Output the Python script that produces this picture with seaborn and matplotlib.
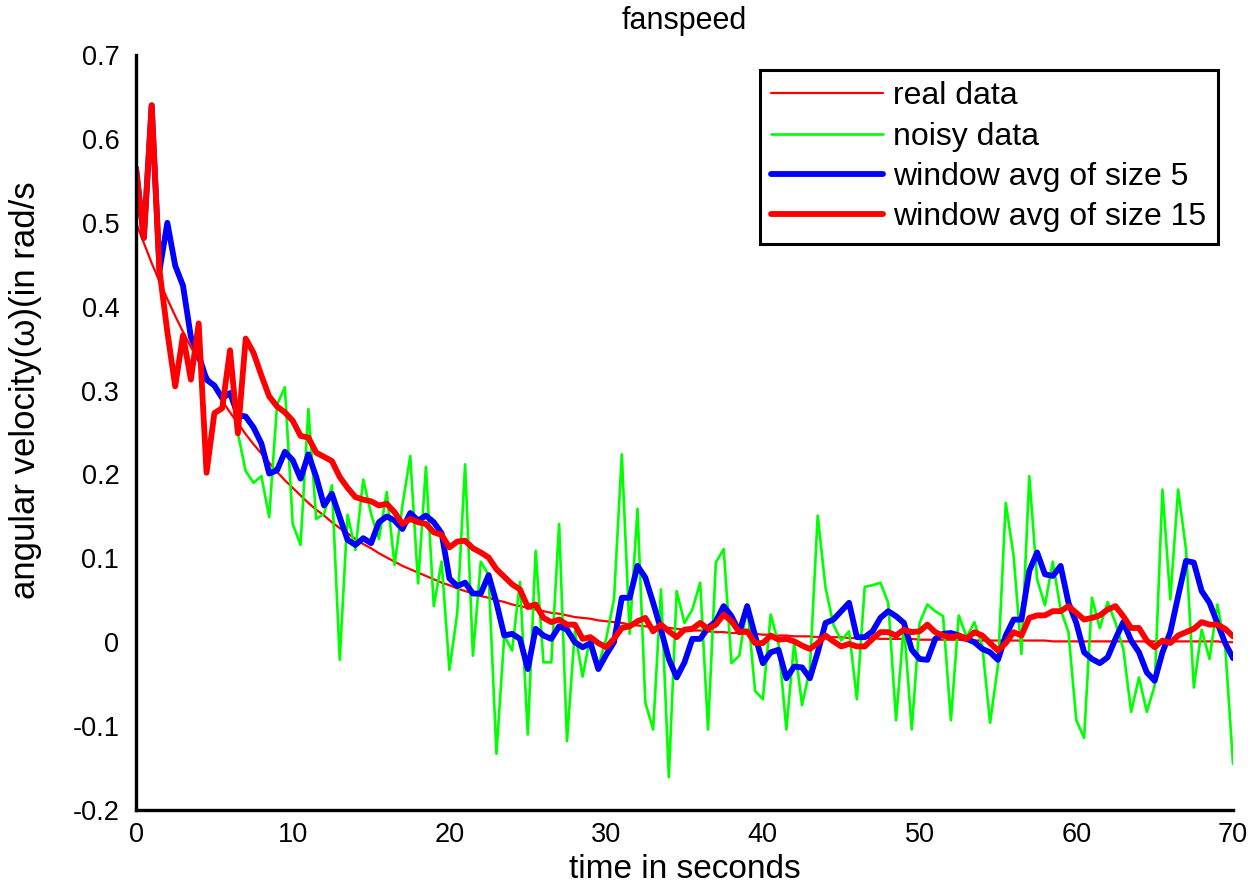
import numpy as np
import pandas as pd
import matplotlib
matplotlib.use('Agg')
import matplotlib.pyplot as plt
import seaborn as sns

# time axis: one sample every 0.5 s from 0 to 70 s
time_s = np.arange(0, 70.5, 0.5)

real_data = [
    0.500, 0.476, 0.452, 0.430, 0.409, 0.389, 0.370, 0.352, 0.335, 0.319,
    0.303, 0.288, 0.274, 0.261, 0.248, 0.236, 0.225, 0.214, 0.203, 0.193,
    0.184, 0.175, 0.166, 0.158, 0.151, 0.143, 0.136, 0.130, 0.123, 0.117,
    0.112, 0.106, 0.101, 0.096, 0.091, 0.087, 0.083, 0.079, 0.075, 0.071,
    0.068, 0.064, 0.061, 0.058, 0.055, 0.053, 0.050, 0.048, 0.045, 0.043,
    0.041, 0.039, 0.037, 0.035, 0.034, 0.032, 0.030, 0.029, 0.028, 0.026,
    0.025, 0.024, 0.023, 0.021, 0.020, 0.019, 0.018, 0.018, 0.017, 0.016,
    0.015, 0.014, 0.014, 0.013, 0.012, 0.012, 0.011, 0.011, 0.010, 0.010,
    0.009, 0.009, 0.008, 0.008, 0.007, 0.007, 0.007, 0.006, 0.006, 0.006,
    0.006, 0.005, 0.005, 0.005, 0.005, 0.004, 0.004, 0.004, 0.004, 0.004,
    0.003, 0.003, 0.003, 0.003, 0.003, 0.003, 0.002, 0.002, 0.002, 0.002,
    0.002, 0.002, 0.002, 0.002, 0.002, 0.002, 0.002, 0.001, 0.001, 0.001,
    0.001, 0.001, 0.001, 0.001, 0.001, 0.001, 0.001, 0.001, 0.001, 0.001,
    0.001, 0.001, 0.001, 0.001, 0.001, 0.001, 0.001, 0.001, 0.001, 0.000,
    0.000,
]

noisy_data = [
    0.565, 0.482, 0.640, 0.443, 0.370, 0.305, 0.366, 0.313, 0.380, 0.202,
    0.273, 0.279, 0.348, 0.249, 0.204, 0.190, 0.198, 0.149, 0.283, 0.304,
    0.141, 0.116, 0.278, 0.147, 0.153, 0.187, -0.021, 0.152, 0.110, 0.194,
    0.153, 0.123, 0.179, 0.092, 0.163, 0.222, 0.070, 0.209, 0.043, 0.096,
    -0.033, 0.035, 0.212, -0.016, 0.096, 0.080, -0.133, 0.008, -0.010, 0.072,
    -0.110, 0.109, -0.024, -0.024, 0.141, -0.118, 0.013, -0.041, 0.008, -0.028,
    0.004, 0.051, 0.224, 0.010, 0.159, -0.072, -0.104, 0.063, -0.161, 0.061,
    0.023, 0.039, 0.071, -0.104, 0.095, 0.111, -0.025, -0.016, 0.045, -0.058,
    -0.068, 0.033, -0.002, -0.104, 0.000, -0.075, -0.032, 0.151, 0.065, 0.021,
    0.002, 0.013, -0.068, 0.066, 0.068, 0.071, 0.047, -0.093, 0.021, -0.104,
    0.023, 0.045, 0.037, 0.031, -0.093, 0.032, 0.006, 0.024, -0.004, -0.096,
    -0.028, 0.166, 0.103, -0.014, 0.198, 0.075, 0.044, 0.096, 0.039, 0.012,
    -0.093, -0.114, 0.053, 0.017, 0.048, 0.023, -0.008, -0.083, -0.042, -0.083,
    -0.052, 0.182, 0.051, 0.182, 0.111, -0.054, 0.015, -0.020, 0.045, -0.004,
    -0.145,
]

window_avg_5 = [
    0.565, 0.482, 0.640, 0.443, 0.500, 0.449, 0.425, 0.364, 0.342, 0.313,
    0.306, 0.291, 0.297, 0.271, 0.269, 0.256, 0.237, 0.201, 0.205, 0.227,
    0.217, 0.195, 0.224, 0.197, 0.163, 0.177, 0.149, 0.122, 0.116, 0.124,
    0.118, 0.143, 0.150, 0.145, 0.135, 0.154, 0.145, 0.151, 0.143, 0.130,
    0.076, 0.067, 0.071, 0.058, 0.058, 0.080, 0.047, 0.008, 0.010, 0.004,
    -0.032, 0.016, 0.008, 0.004, 0.019, 0.015, 0.000, -0.006, -0.001, -0.032,
    -0.015, 0.000, 0.053, 0.053, 0.091, 0.077, 0.047, 0.015, -0.020, -0.042,
    -0.024, 0.004, 0.004, 0.017, 0.025, 0.043, 0.031, 0.012, 0.043, 0.008,
    -0.025, -0.012, -0.009, -0.043, -0.029, -0.030, -0.043, -0.012, 0.023, 0.027,
    0.037, 0.047, 0.006, 0.006, 0.013, 0.029, 0.037, 0.031, 0.023, -0.009,
    -0.020, -0.021, 0.004, 0.010, 0.011, 0.008, 0.004, 0.000, -0.008, -0.012,
    -0.021, 0.008, 0.027, 0.027, 0.085, 0.107, 0.081, 0.079, 0.091, 0.047,
    0.023, -0.012, -0.020, -0.025, -0.018, 0.004, 0.024, 0.002, -0.012, -0.036,
    -0.046, -0.012, 0.012, 0.055, 0.097, 0.095, 0.061, 0.047, 0.023, -0.001,
    -0.019,
]

window_avg_15 = [
    0.565, 0.482, 0.640, 0.443, 0.370, 0.305, 0.366, 0.313, 0.380, 0.202,
    0.273, 0.279, 0.348, 0.249, 0.362, 0.345, 0.318, 0.293, 0.281, 0.274,
    0.264, 0.246, 0.244, 0.226, 0.221, 0.216, 0.197, 0.184, 0.173, 0.170,
    0.168, 0.163, 0.165, 0.155, 0.141, 0.147, 0.143, 0.141, 0.131, 0.128,
    0.113, 0.120, 0.121, 0.112, 0.107, 0.101, 0.087, 0.078, 0.069, 0.063,
    0.042, 0.045, 0.029, 0.024, 0.027, 0.021, 0.021, 0.004, 0.006, -0.001,
    -0.006, 0.004, 0.017, 0.019, 0.025, 0.029, 0.013, 0.021, 0.013, 0.006,
    0.015, 0.016, 0.023, 0.016, 0.021, 0.033, 0.025, 0.012, 0.013, -0.001,
    -0.001, 0.008, 0.003, 0.004, 0.001, -0.004, -0.008, -0.001, 0.008, 0.001,
    -0.005, -0.002, -0.005, -0.005, 0.004, 0.012, 0.012, 0.008, 0.015, 0.012,
    0.013, 0.021, 0.012, 0.008, 0.006, 0.008, 0.004, 0.012, 0.008, -0.001,
    -0.010, -0.001, 0.012, 0.008, 0.029, 0.032, 0.032, 0.037, 0.037, 0.043,
    0.035, 0.027, 0.029, 0.032, 0.039, 0.043, 0.031, 0.017, 0.017, 0.002,
    -0.006, 0.002, -0.001, 0.008, 0.012, 0.016, 0.024, 0.021, 0.021, 0.016,
    0.007,
]

series_labels = ['real data', 'noisy data', 'window avg of size 5', 'window avg of size 15']
x_ticks = [0, 10, 20, 30, 40, 50, 60, 70]
x_tick_labels = ['0', '10', '20', '30', '40', '50', '60', '70']
y_ticks = [-0.2, -0.1, 0.0, 0.1, 0.2, 0.3, 0.4, 0.5, 0.6, 0.7]
y_tick_labels = ['-0.2', '-0.1', '0', '0.1', '0.2', '0.3', '0.4', '0.5', '0.6', '0.7']

df = pd.DataFrame({'time': time_s, 'real': real_data, 'noisy': noisy_data,
                   'avg5': window_avg_5, 'avg15': window_avg_15})

sns.set_theme(style='white')
plt.rcParams['font.family'] = ['Liberation Sans', 'DejaVu Sans']
plt.rcParams['axes.unicode_minus'] = False
plt.rcParams['text.color'] = 'black'
plt.rcParams['axes.labelcolor'] = 'black'

fig = plt.figure(figsize=(12.53, 8.85), dpi=100)
ax = fig.add_axes([136 / 1253, 1 - 810 / 885, 1097 / 1253, 755 / 885])

sns.lineplot(data=df, x='time', y='real', color='#ff0000', linewidth=1.6,
             label=series_labels[0], estimator=None, sort=False, ax=ax)
sns.lineplot(data=df, x='time', y='noisy', color='#00ff00', linewidth=1.9,
             label=series_labels[1], estimator=None, sort=False, ax=ax)
sns.lineplot(data=df, x='time', y='avg5', color='#0000ff', linewidth=4.2,
             label=series_labels[2], estimator=None, sort=False, ax=ax)
sns.lineplot(data=df, x='time', y='avg15', color='#ff0000', linewidth=4.2,
             label=series_labels[3], estimator=None, sort=False, ax=ax)

ax.set_xlim(0, 70)
ax.set_ylim(-0.2, 0.7)
ax.set_xticks(x_ticks, x_tick_labels)
ax.set_yticks(y_ticks, y_tick_labels)
ax.tick_params(axis='both', direction='in', length=9, width=2, colors='black',
               labelsize=19.5)
ax.tick_params(axis='y', pad=12)
ax.tick_params(axis='x', pad=9)

for side in ['top', 'right']:
    ax.spines[side].set_visible(False)
for side in ['left', 'bottom']:
    ax.spines[side].set_color('black')
    ax.spines[side].set_linewidth(2.4)

ax.set_xlabel('time in seconds', fontsize=24, color='black')
ax.xaxis.set_label_coords(0.5, -0.058)
ax.set_ylabel('angular velocity(\u03c9)(in rad/s', fontsize=25, color='black')
ax.yaxis.set_label_coords(-0.086, 0.556)
ax.set_title('fanspeed', fontsize=22, color='black', y=1.034, pad=0)

leg = ax.legend(loc='upper right', bbox_to_anchor=(1218 / 1253, 1 - 70 / 885),
                bbox_transform=fig.transFigure, borderaxespad=0, fontsize=23,
                handlelength=3.5, handletextpad=0.32, labelspacing=0.32,
                borderpad=0.36, fancybox=False, framealpha=1, edgecolor='black')
leg.get_frame().set_linewidth(2.2)
for txt in leg.get_texts():
    txt.set_color('black')

fig.savefig('out.png', dpi=100)
